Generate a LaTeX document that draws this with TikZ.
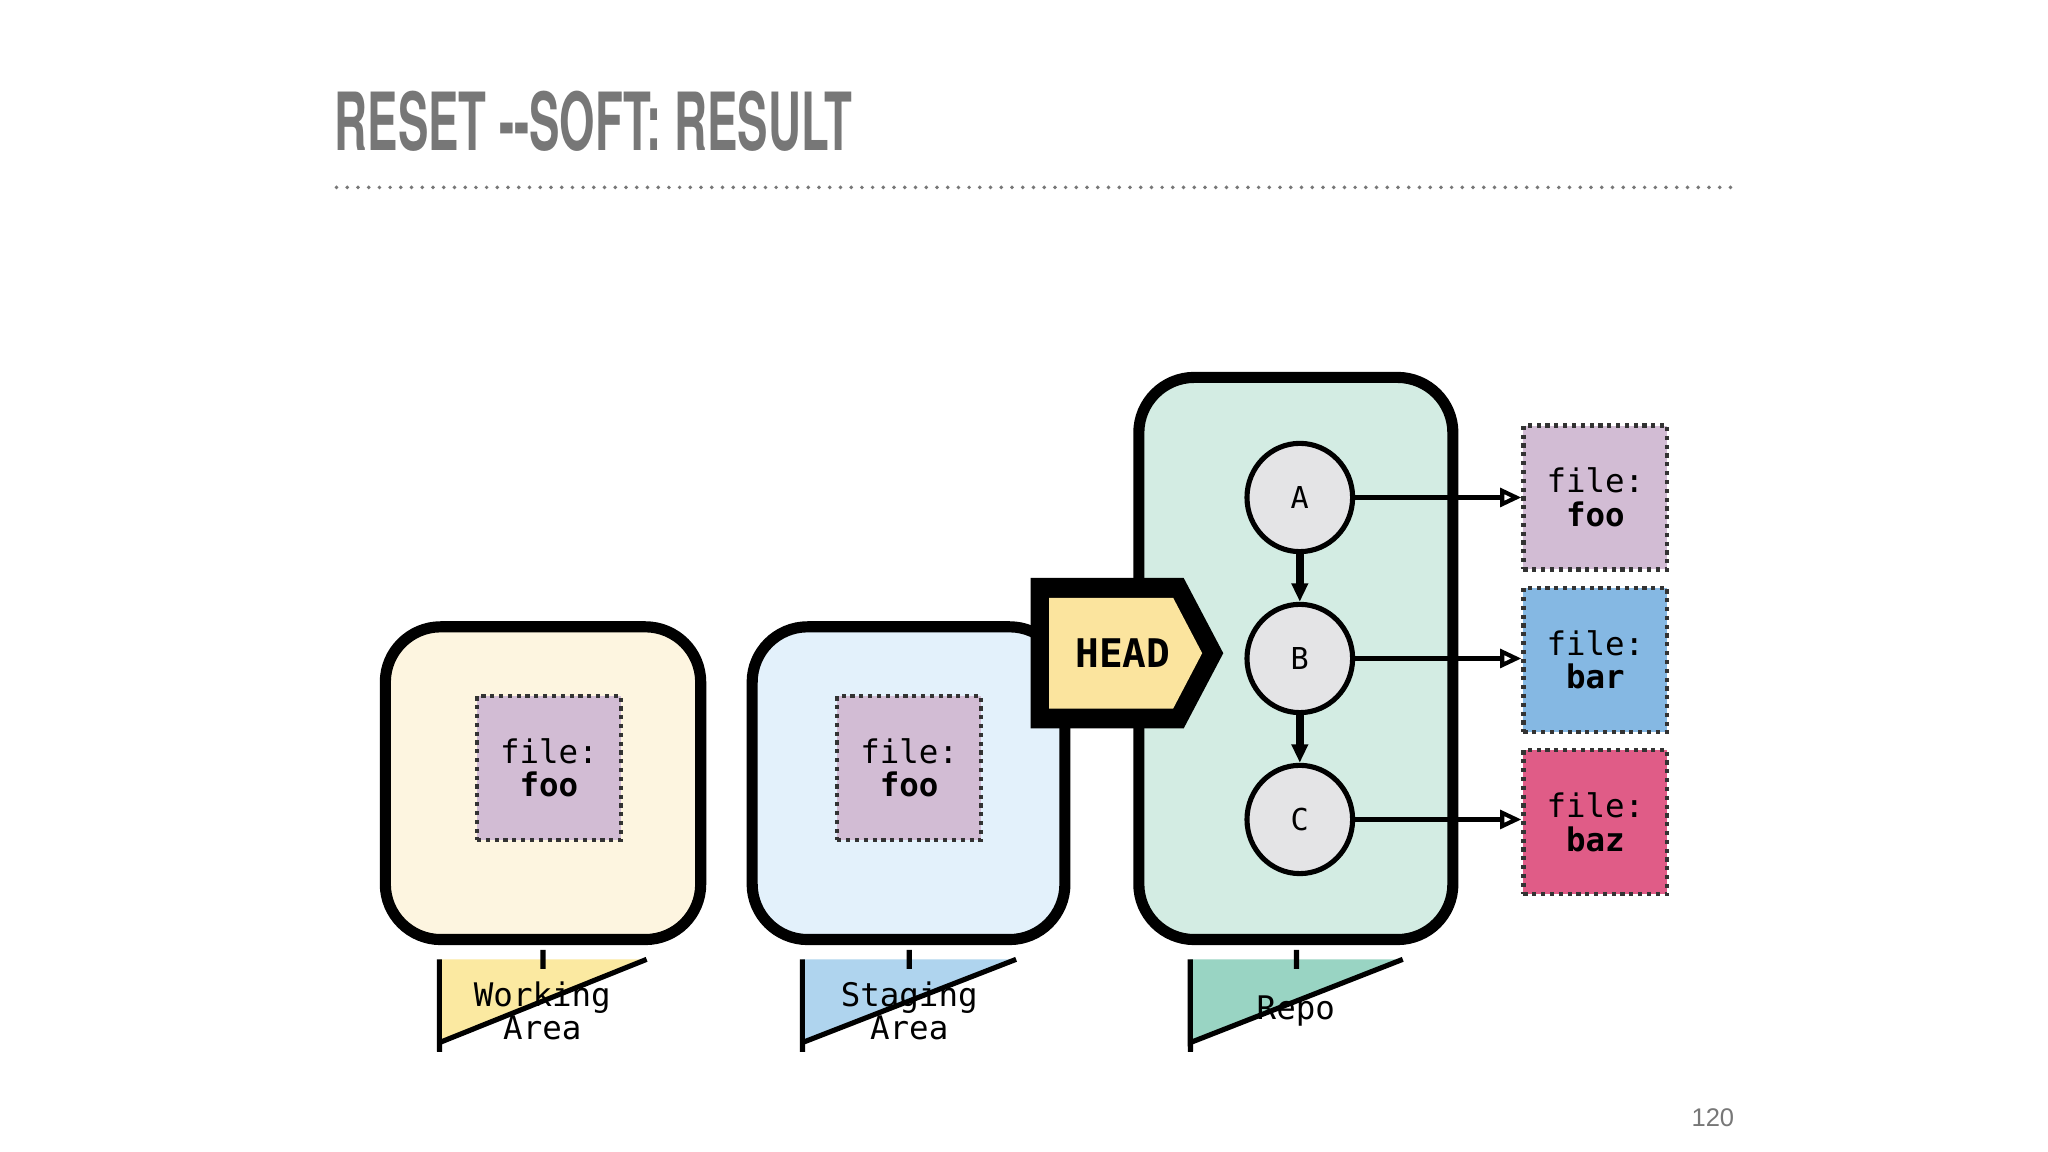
\documentclass[tikz,border=0pt]{standalone}
\usepackage{fontspec}
\setmainfont{Liberation Sans}
\newfontfamily\mono{DejaVu Sans Mono}
\newfontfamily\titlef{TeX Gyre Heros}
\usetikzlibrary{arrows.meta,shapes.geometric}
\definecolor{wbg}{HTML}{FDF5E0}\definecolor{wcyl}{HTML}{FBE9A1}
\definecolor{sbg}{HTML}{E3F1FB}\definecolor{scyl}{HTML}{AFD4EE}
\definecolor{rbg}{HTML}{D3ECE3}\definecolor{rcyl}{HTML}{99D4C3}
\definecolor{cfoo}{HTML}{D2BCD4}\definecolor{cbar}{HTML}{85B8E3}\definecolor{cbaz}{HTML}{E05C87}
\definecolor{chead}{HTML}{FBE49E}\definecolor{ccirc}{HTML}{E4E4E6}\definecolor{tgray}{HTML}{777777}
\tikzset{
 area/.style={line width=2.4pt, rounded corners=0.42cm},
 file/.style={draw=black!80, densely dotted, line width=0.9pt, minimum size=1.09cm, inner sep=0pt, align=center, font=\mono\fontsize{7pt}{7.2pt}\selectfont},
 commit/.style={ellipse, draw, line width=1.1pt, fill=ccirc, minimum width=0.8cm, minimum height=0.82cm, inner sep=0pt, font=\mono\fontsize{6.5pt}{7pt}\selectfont},
 cyl/.style={draw, line width=1.1pt},
 cyltext/.style={align=center, font=\mono\fontsize{7pt}{7.2pt}\selectfont},
 down/.style={-{Triangle[length=0.14cm,width=0.12cm]}, line width=1.8pt},
 link/.style={-{Triangle[open,length=0.16cm,width=0.14cm]}, line width=0.9pt},
}
\begin{document}
\begin{tikzpicture}[x=0.01cm,y=-0.01cm]
\useasboundingbox (0,0) rectangle (1552,873);
\fill[white] (0,0) rectangle (1552,873);
% title
\node[anchor=west, text=tgray, inner sep=0pt] (title) at (253,92) {\resizebox{3.92cm}{0.45cm}{\titlef\bfseries RESET -{}-SOFT: RESULT}};
\draw[tgray, line width=0.03cm, line cap=round, dash pattern=on 0pt off 0.0812cm] (255,142) -- (1318,142);
% cylinders
\foreach \x/\w/\c in {333/157/wcyl,608/162/scyl,902/161/rcyl}{
 \filldraw[cyl, fill=\c] (\x,727) -- (\x,790) arc(180:360:{\w/200 cm} and 0.07cm) -- (\x+\w,727);
 \filldraw[cyl, fill=\c] (\x+\w/2,727) ellipse ({\w/200 cm} and 0.07cm);
}
\node[cyltext] (wl) at (411,766) {Working\\Area};
\node[cyltext] (sl) at (689,766) {Staging\\Area};
\node[cyltext] (rl) at (982,766) {Repo};
% areas
\filldraw[area, fill=wbg] (292,475) rectangle (531,712);
\filldraw[area, fill=sbg] (570,475) rectangle (807,712);
\filldraw[area, fill=rbg] (863,286) rectangle (1101,712);
\node[file, fill=cfoo] (wfoo) at (416,582) {file:\\\textbf{foo}};
\node[file, fill=cfoo] (sfoo) at (689,582) {file:\\\textbf{foo}};
% HEAD
\fill[black] (781,438) -- (897,438) -- (927,495) -- (897,552) -- (781,552) -- cycle;
\fill[chead] (795,453) -- (889,453) -- (911,495) -- (889,537) -- (795,537) -- cycle;
\node[font=\mono\bfseries\fontsize{8.5pt}{9pt}\selectfont] (head) at (851,495) {HEAD};
% commits
\node[commit] (A) at (985,377) {A};
\node[commit] (B) at (985,499) {B};
\node[commit] (C) at (985,621) {C};
\draw[down] (A) -- (B);
\draw[down] (B) -- (C);
% files
\node[file, fill=cfoo] (ffoo) at (1209,377) {file:\\\textbf{foo}};
\node[file, fill=cbar] (fbar) at (1209,500) {file:\\\textbf{bar}};
\node[file, fill=cbaz] (fbaz) at (1209,623) {file:\\\textbf{baz}};
\draw[link] (A) -- (A -| ffoo.west);
\draw[link] (B) -- (B -| fbar.west);
\draw[link] (C) -- (C -| fbaz.west);
\node[text=tgray, font=\fontsize{5.5pt}{6pt}\selectfont] (page) at (1298,847) {120};
\end{tikzpicture}
\end{document}
